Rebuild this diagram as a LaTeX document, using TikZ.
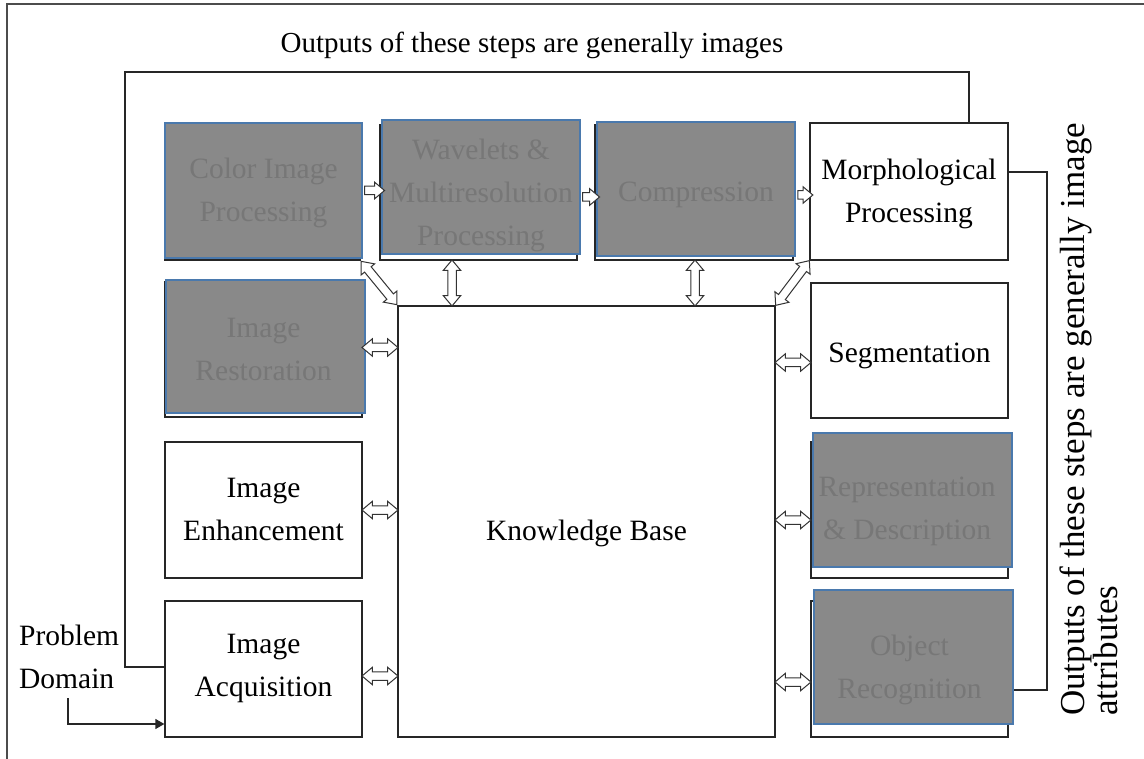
\documentclass[tikz,border=0pt]{standalone}
\usepackage{fontspec}
\setmainfont{Liberation Serif}
\usetikzlibrary{arrows.meta,shapes.arrows}
\definecolor{grayf}{HTML}{898989}
\definecolor{grayt}{HTML}{777777}
\definecolor{blueb}{HTML}{4A79AD}
\newcommand{\boxfont}{\fontsize{29.5}{43}\selectfont}
\newcommand{\shaft}{\rule{0pt}{7.5pt}}
\tikzset{
  wbox/.style={draw=black!85, line width=1.3pt, fill=white, align=center, font=\boxfont, inner sep=0pt},
  backbox/.style={draw=black!85, line width=1.3pt, fill=white, inner sep=0pt},
  gbox/.style={draw=blueb, line width=2.6pt, fill=grayf, inner sep=0pt},
  gtext/.style={text=grayt, align=center, font=\boxfont, inner sep=0pt},
  wtext/.style={align=center, font=\boxfont, inner sep=0pt},
  dblarr/.style={double arrow, draw=black!80, fill=white, line width=1pt, inner sep=0pt,
     double arrow head extend=4.5pt, double arrow tip angle=80, sloped},
  sglarr/.style={single arrow, draw=black!80, fill=white, line width=1pt, inner sep=0pt,
     single arrow head extend=4pt, single arrow tip angle=80, sloped},
  line/.style={draw=black!85, line width=1.3pt},
}
\begin{document}
\begin{tikzpicture}[x=1pt,y=-1pt]
\useasboundingbox (0,0) rectangle (1144,759);
\fill[white] (0,0) rectangle (1144,759);
% frame
\draw[black!70, line width=1.3pt] (1144,4) -- (7,4) -- (7,759);

% back boxes
\node[backbox, minimum width=195, minimum height=135] (colorb) at (262.5,192.5) {};
\node[backbox, minimum width=197, minimum height=135] (waveb) at (478.5,192.5) {};
\node[backbox, minimum width=198, minimum height=135] (compb) at (694,192.5) {};
\node[backbox, minimum width=197, minimum height=135] (restb) at (263.5,349.5) {};
\node[backbox, minimum width=197, minimum height=136] (repb) at (909.5,510) {};
\node[backbox, minimum width=197, minimum height=136] (objb) at (909.5,669) {};

% gray boxes
\node[gbox, minimum width=197, minimum height=135] (color) at (263.5,190.5) {};
\node[gbox, minimum width=198, minimum height=134] (wave) at (481,187) {};
\node[gbox, minimum width=198, minimum height=134] (comp) at (696,189) {};
\node[gbox, minimum width=199, minimum height=133] (rest) at (265.5,346.5) {};
\node[gbox, minimum width=199, minimum height=134] (rep) at (912.5,500) {};
\node[gbox, minimum width=199, minimum height=134] (obj) at (913.5,657) {};
\node[gtext] (colort) at (263.5,193) {Color Image\\Processing};
\node[gtext] (wavet) at (481,195) {Wavelets \&\\Multiresolution\\Processing};
\node[gtext] (compt) at (696,195) {Compression};
\node[gtext] (restt) at (263.5,349) {Image\\Restoration};
\node[gtext] (rept) at (907,511) {Representation\\\& Description};
\node[gtext] (objt) at (909.5,670) {Object\\Recognition};

% white boxes
\node[wbox, minimum width=198, minimum height=137] (morph) at (909,191.5) {};
\node[wbox, minimum width=197, minimum height=135] (seg) at (909.5,350.5) {};
\node[wbox, minimum width=197, minimum height=136] (enh) at (263.5,510) {};
\node[wbox, minimum width=197, minimum height=136] (acq) at (263.5,669) {};
\node[wbox, minimum width=377, minimum height=431] (kb) at (586.5,521.5) {};
\node[wtext] (morpht) at (909,193.5) {Morphological\\Processing};
\node[wtext] (segt) at (909.5,356) {Segmentation};
\node[wtext] (enht) at (263.5,509) {Image\\Enhancement};
\node[wtext] (acqt) at (263.5,668) {Image\\Acquisition};
\node[wtext] (kbtext) at (586.5,533) {Knowledge Base};

% top row arrows
\path (color.east) -- (color.east -| wave.west) node[midway, sglarr, minimum height=20pt] {\shaft};
\path ([yshift=-10]wave.east) -- ([yshift=-10]wave.east -| comp.west) node[midway, sglarr, minimum height=17pt] {\shaft};
\path ([yshift=-6]comp.east) -- ([yshift=-6]comp.east -| morph.west) node[midway, sglarr, minimum height=15pt] {\shaft};

% vertical arrows
\coordinate (v1) at (452,0);
\coordinate (v2) at (695,0);
\path (waveb.south -| v1) -- (kb.north -| v1) node[midway, dblarr, minimum height=46pt] {\shaft};
\path (compb.south -| v2) -- (kb.north -| v2) node[midway, dblarr, minimum height=46pt] {\shaft};
% diagonal
\path (colorb.south east) -- (kb.north west) node[midway, dblarr, minimum height=56pt] {\shaft};
\path (morph.south west) -- (kb.north east) node[midway, dblarr, minimum height=56pt] {\shaft};

% left arrows
\path ([yshift=2]restb.east) -- ([yshift=2]restb.east -| kb.west) node[midway, dblarr, minimum height=36pt] {\shaft};
\path (enh.east) -- (enh.east -| kb.west) node[midway, dblarr, minimum height=36pt] {\shaft};
\path ([yshift=-7]acq.east) -- ([yshift=-7]acq.east -| kb.west) node[midway, dblarr, minimum height=36pt] {\shaft};
% right arrows
\path ([yshift=-12]seg.west -| kb.east) -- ([yshift=-12]seg.west) node[midway, dblarr, minimum height=36pt] {\shaft};
\path ([yshift=-10]repb.west -| kb.east) -- ([yshift=-10]repb.west) node[midway, dblarr, minimum height=36pt] {\shaft};
\path ([yshift=-13]objb.west -| kb.east) -- ([yshift=-13]objb.west) node[midway, dblarr, minimum height=36pt] {\shaft};

% feedback top
\coordinate (tl) at (125,72);
\coordinate (tr) at (969,72);
\draw[line] ([yshift=2]acq.west) -| (tl) -- (tr) -- (tr |- morph.north);
\node[font=\fontsize{29}{34}\selectfont, inner sep=0pt] (toplabel) at (532,45) {Outputs of these steps are generally images};

% feedback right
\coordinate (rt) at (1047,172);
\coordinate (rb) at (1047,690);
\draw[line] (morph.east |- rt) -- (rt) -- (rb) -- (rb -| obj.east);
\node[rotate=90, anchor=north west, align=left, inner sep=0pt, font=\fontsize{35}{33}\selectfont] (sidelabel) at (1060,716) {Outputs of these steps are generally image\\attributes};

% problem domain
\node[anchor=north west, align=left, inner sep=0pt, font=\fontsize{29.5}{43}\selectfont] (pd) at (19,625) {Problem\\Domain};
\coordinate (pds) at (68,698);
\coordinate (pdc) at (68,724);
\draw[line, -{Triangle[length=9pt,width=10pt]}] (pds) -- (pdc) -- (pdc -| acq.west);
\end{tikzpicture}
\end{document}
